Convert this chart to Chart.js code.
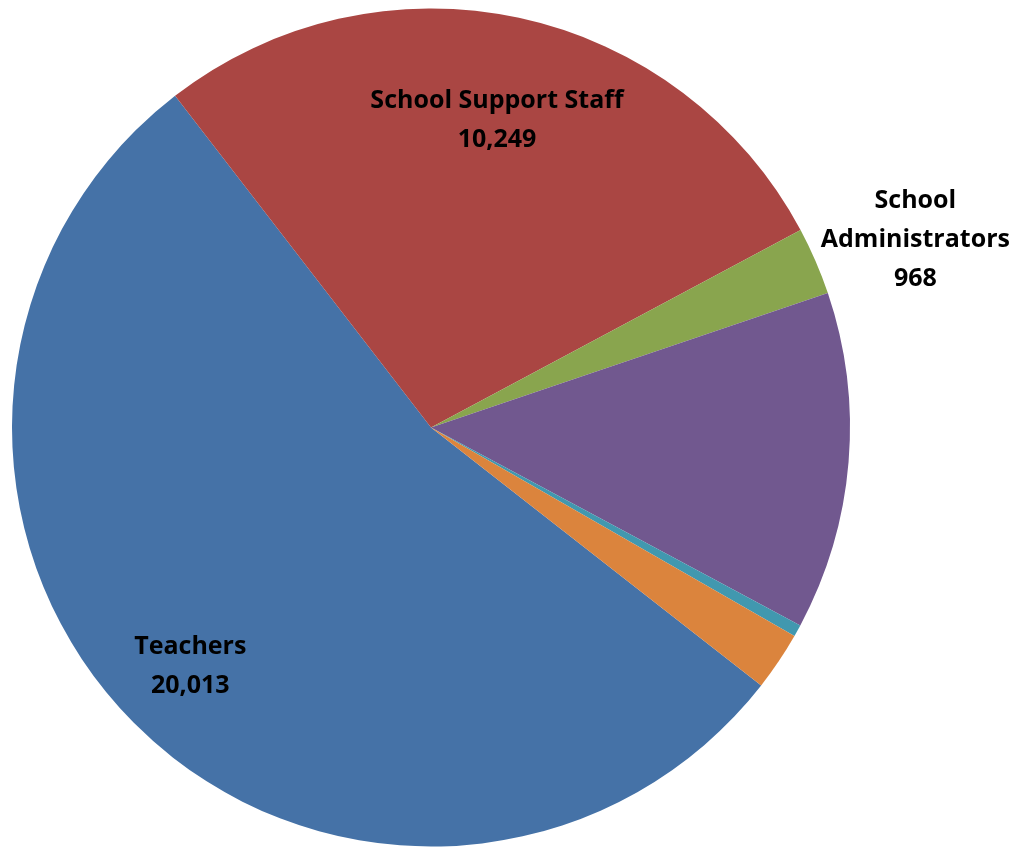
<!DOCTYPE html>
<html>
<head>
<meta charset="utf-8">
<script src="https://cdn.jsdelivr.net/npm/chart.js@4/dist/chart.umd.min.js"></script>
<style>
  html, body { margin: 0; padding: 0; background: #ffffff; }
  #wrap { width: 1020px; height: 847px; position: relative; }
</style>
</head>
<body>
<div id="wrap"><canvas id="c"></canvas></div>
<script>
const categories = ["Teachers", "School Support Staff", "School Administrators", "Other Staff", "Other", "Other Professionals"];
const values = [20013, 10249, 968, 4830, 170, 840];
const colors = ["#4572A7", "#AA4643", "#89A54E", "#71588F", "#4198AF", "#DB843D"];
const shownLabels = [true, true, true, false, false, false];
const labelLines = [["Teachers"], ["School Support Staff"], ["School", "Administrators"], [], [], []];
const labelRadius = [0.81, 0.75, 1.24, 0, 0, 0];
const labelAngleShift = [0, 0, 2.2, 0, 0, 0];

const labelPlugin = {
  id: 'sliceLabels',
  afterDatasetsDraw(chart) {
    const ctx = chart.ctx;
    const meta = chart.getDatasetMeta(0);
    ctx.save();
    ctx.fillStyle = '#000000';
    ctx.font = 'bold 25px "Open Sans"';
    ctx.textAlign = 'center';
    ctx.textBaseline = 'middle';
    const lh = 39;
    meta.data.forEach((arc, i) => {
      if (!shownLabels[i]) return;
      const p = arc.getProps(['x', 'y', 'startAngle', 'endAngle', 'outerRadius']);
      const mid = (p.startAngle + p.endAngle) / 2 + labelAngleShift[i] * Math.PI / 180;
      const r = p.outerRadius * labelRadius[i];
      const cx = p.x + Math.cos(mid) * r;
      const cy = p.y + Math.sin(mid) * r;
      const lines = labelLines[i].concat([values[i].toLocaleString('en-US')]);
      const y0 = cy - (lines.length - 1) * lh / 2;
      lines.forEach((t, k) => ctx.fillText(t, cx, y0 + k * lh));
    });
    ctx.restore();
  }
};

new Chart(document.getElementById('c'), {
  type: 'pie',
  data: {
    labels: categories,
    datasets: [{
      data: values,
      backgroundColor: colors,
      borderWidth: 0
    }]
  },
  options: {
    responsive: true,
    maintainAspectRatio: false,
    animation: false,
    rotation: 128,
    layout: { padding: { left: 12, right: 170, top: 8, bottom: 0 } },
    plugins: {
      legend: { display: false },
      tooltip: { enabled: false }
    }
  },
  plugins: [labelPlugin]
});
</script>
</body>
</html>
